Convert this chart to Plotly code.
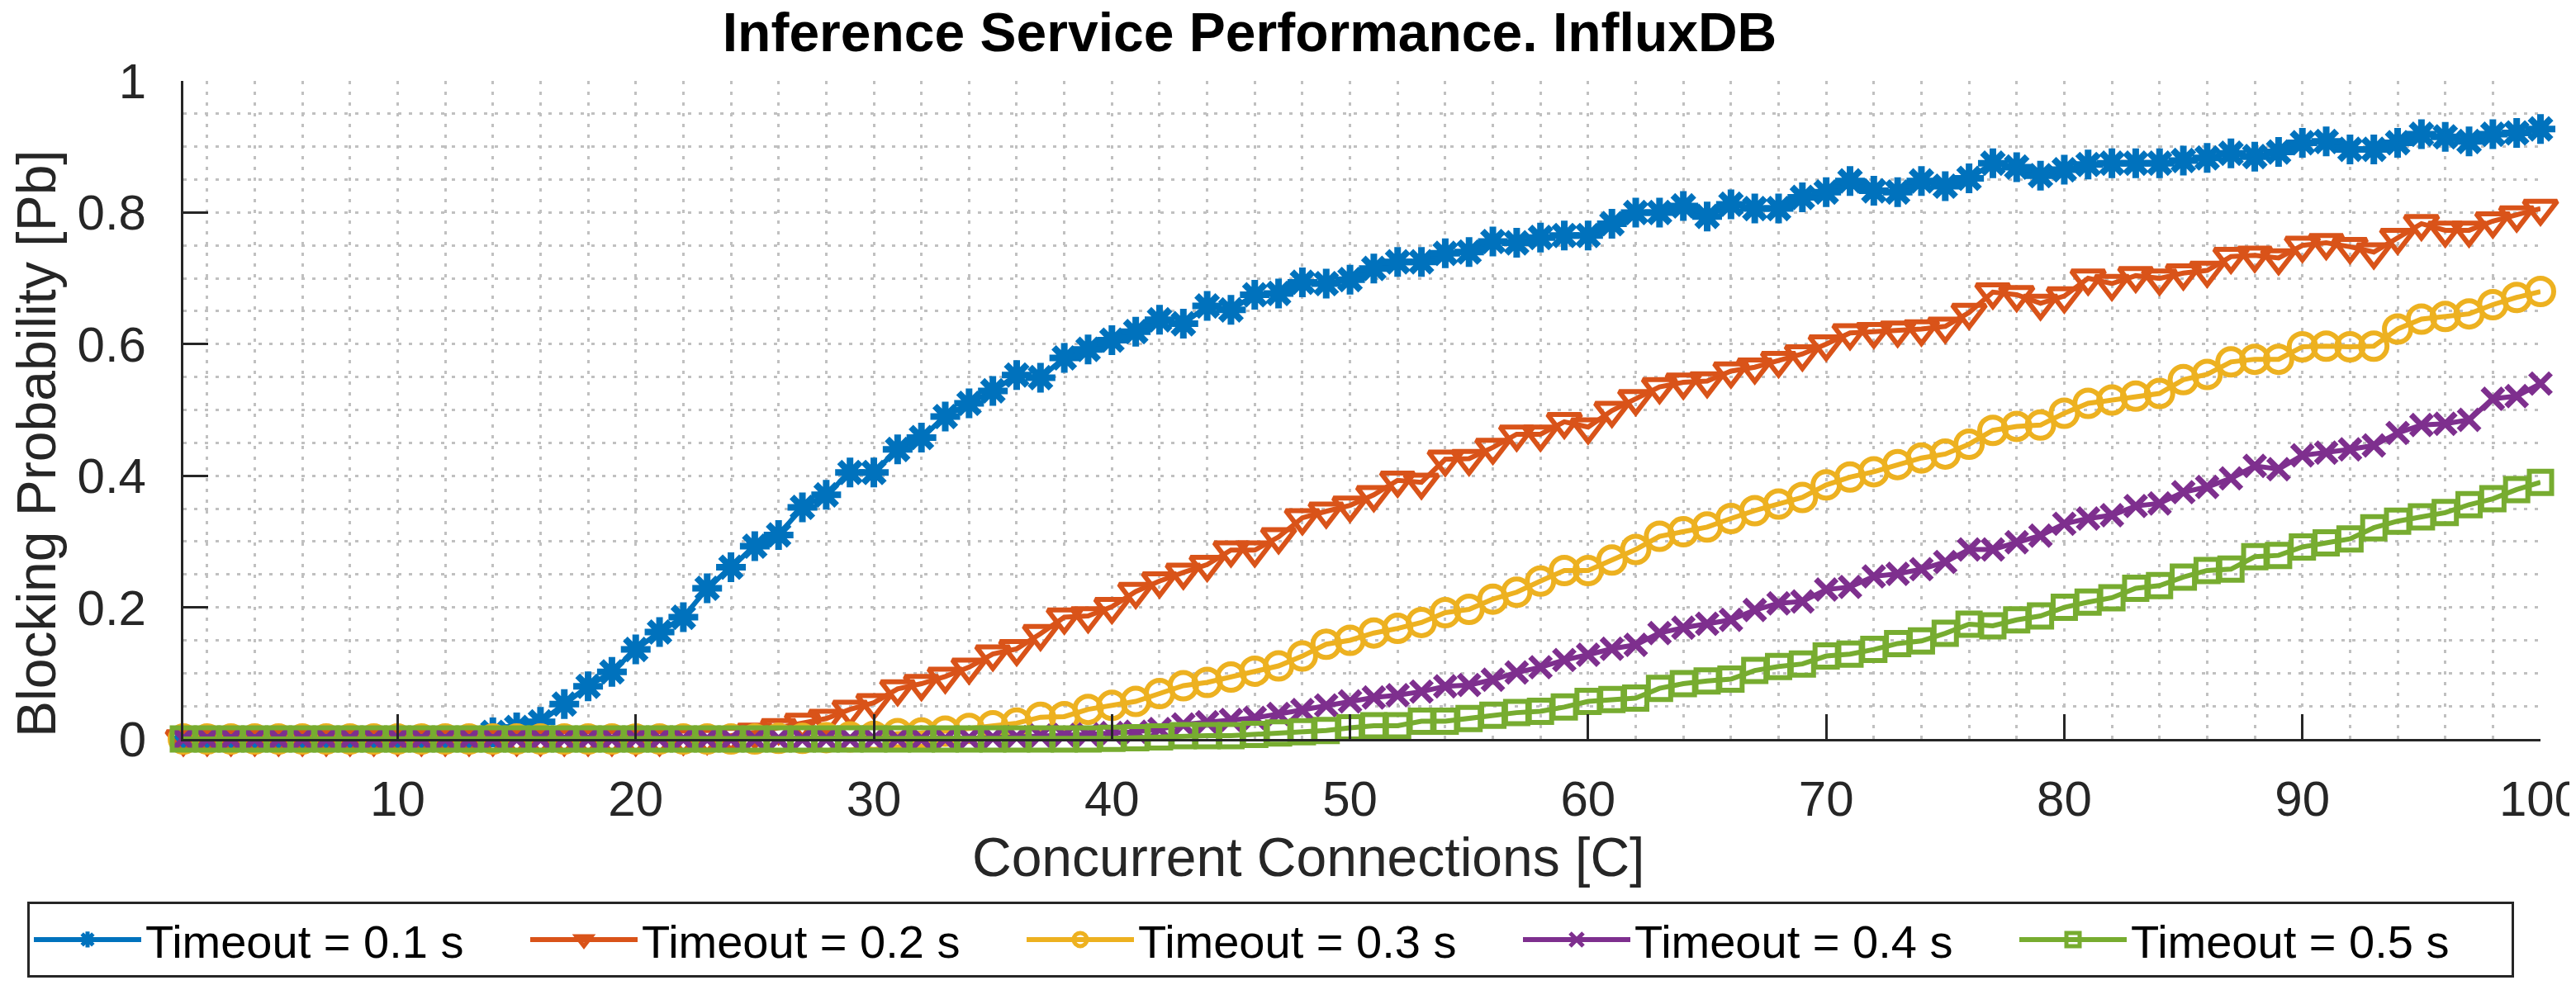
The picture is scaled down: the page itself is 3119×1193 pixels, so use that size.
import plotly.graph_objects as go

connections = list(range(1, 101))

timeout_01 = [0, 0, 0, 0, 0, 0, 0, 0, 0, 0,
              0, 0, 0, 0.010, 0.0175, 0.026, 0.053, 0.080, 0.102, 0.136,
              0.1625, 0.185, 0.229, 0.261, 0.293, 0.310, 0.352, 0.371, 0.405, 0.405,
              0.440, 0.458, 0.490, 0.510, 0.529, 0.553, 0.549, 0.579, 0.592, 0.606,
              0.619, 0.637, 0.631, 0.658, 0.652, 0.675, 0.677, 0.694, 0.692, 0.698,
              0.715, 0.725, 0.725, 0.738, 0.740, 0.756, 0.754, 0.762, 0.765, 0.765,
              0.783, 0.800, 0.800, 0.810, 0.794, 0.8125, 0.806, 0.806, 0.823, 0.831,
              0.848, 0.833, 0.831, 0.848, 0.840, 0.852, 0.875, 0.869, 0.856, 0.865,
              0.873, 0.875, 0.875, 0.875, 0.879, 0.883, 0.890, 0.885, 0.892, 0.906,
              0.908, 0.896, 0.896, 0.906, 0.919, 0.915, 0.908, 0.919, 0.921, 0.927]

timeout_02 = [0, 0, 0, 0, 0, 0, 0, 0, 0, 0,
              0, 0, 0, 0, 0, 0, 0, 0, 0, 0,
              0, 0.001, 0.002, 0.005, 0.010, 0.017, 0.025, 0.031, 0.045, 0.055,
              0.076, 0.084, 0.095, 0.109, 0.129, 0.137, 0.160, 0.185, 0.187, 0.201,
              0.224, 0.240, 0.253, 0.265, 0.287, 0.287, 0.307, 0.336, 0.346, 0.355,
              0.371, 0.393, 0.390, 0.425, 0.426, 0.443, 0.463, 0.463, 0.482, 0.474,
              0.499, 0.517, 0.535, 0.542, 0.544, 0.559, 0.565, 0.575, 0.585, 0.600,
              0.617, 0.619, 0.621, 0.623, 0.627, 0.648, 0.679, 0.675, 0.662, 0.673,
              0.700, 0.692, 0.704, 0.700, 0.708, 0.712, 0.733, 0.735, 0.731, 0.750,
              0.754, 0.748, 0.740, 0.762, 0.783, 0.773, 0.773, 0.787, 0.796, 0.806]

timeout_03 = [0, 0, 0, 0, 0, 0, 0, 0, 0, 0,
              0, 0, 0, 0, 0, 0, 0, 0, 0, 0,
              0, 0, 0, 0, 0, 0.001, 0.001, 0.002, 0.003, 0.004,
              0.008, 0.009, 0.012, 0.016, 0.020, 0.024, 0.033, 0.034, 0.045, 0.051,
              0.057, 0.069, 0.081, 0.086, 0.094, 0.103, 0.111, 0.126, 0.144, 0.150,
              0.161, 0.168, 0.177, 0.192, 0.197, 0.2125, 0.223, 0.240, 0.256, 0.256,
              0.272, 0.288, 0.308, 0.315, 0.322, 0.335, 0.347, 0.357, 0.367, 0.386,
              0.398, 0.406, 0.417, 0.427, 0.433, 0.448, 0.469, 0.475, 0.477, 0.495,
              0.510, 0.515, 0.521, 0.525, 0.546, 0.554, 0.573, 0.577, 0.577, 0.596,
              0.597, 0.596, 0.597, 0.623, 0.638, 0.642, 0.646, 0.660, 0.671, 0.680]

timeout_04 = [0, 0, 0, 0, 0, 0, 0, 0, 0, 0,
              0, 0, 0, 0, 0, 0, 0, 0, 0, 0,
              0, 0, 0, 0, 0, 0, 0, 0, 0, 0,
              0, 0, 0, 0.001, 0.002, 0.003, 0.005, 0.006, 0.007, 0.009,
              0.011, 0.015, 0.022, 0.0255, 0.029, 0.032, 0.038, 0.044, 0.051, 0.057,
              0.063, 0.0665, 0.072, 0.080, 0.082, 0.090, 0.101, 0.109, 0.120, 0.128,
              0.137, 0.143, 0.161, 0.169, 0.175, 0.181, 0.196, 0.206, 0.209, 0.227,
              0.231, 0.247, 0.251, 0.258, 0.269, 0.288, 0.288, 0.299, 0.309, 0.327,
              0.335, 0.340, 0.354, 0.358, 0.375, 0.383, 0.396, 0.415, 0.410, 0.431,
              0.435, 0.440, 0.446, 0.465, 0.477, 0.479, 0.485, 0.517, 0.521, 0.540]

timeout_05 = [0, 0, 0, 0, 0, 0, 0, 0, 0, 0,
              0, 0, 0, 0, 0, 0, 0, 0, 0, 0,
              0, 0, 0, 0, 0, 0, 0, 0, 0, 0,
              0, 0, 0, 0, 0, 0, 0, 0, 0, 0.001,
              0.002, 0.003, 0.005, 0.005, 0.005, 0.007, 0.009, 0.011, 0.013, 0.017,
              0.020, 0.020, 0.027, 0.027, 0.031, 0.036, 0.040, 0.042, 0.0485, 0.057,
              0.060, 0.062, 0.077, 0.084, 0.088, 0.091, 0.104, 0.110, 0.114, 0.126,
              0.129, 0.136, 0.145, 0.149, 0.1605, 0.1745, 0.172, 0.181, 0.187, 0.200,
              0.208, 0.2146, 0.229, 0.233, 0.246, 0.256, 0.258, 0.277, 0.279, 0.2917,
              0.298, 0.304, 0.321, 0.331, 0.3375, 0.344, 0.356, 0.365, 0.379, 0.390]

series_names = ["Timeout = 0.1 s", "Timeout = 0.2 s", "Timeout = 0.3 s",
                "Timeout = 0.4 s", "Timeout = 0.5 s"]
series_values = [timeout_01, timeout_02, timeout_03, timeout_04, timeout_05]
series_colors = ["#0072BD", "#D95319", "#EDB120", "#7E2F8E", "#77AC30"]
series_symbols = ["asterisk-open", "triangle-down-open", "circle-open",
                  "x-thin-open", "square-open"]
series_sizes = [30, 35, 32, 25, 27]
series_mlw = [8, 6, 6, 7, 6]

x_ticks = [10, 20, 30, 40, 50, 60, 70, 80, 90, 100]
y_ticks = [0, 0.2, 0.4, 0.6, 0.8, 1]

W, H = 3119, 1193
L, R, T, B = 214, 3068, 90, 887
FONT = "Liberation Sans, Arial, Helvetica, sans-serif"
AXC = "#262626"
GRIDC = "#c0c0c0"

fig = go.Figure()
for name, vals, col, sym, sz, mlw in zip(series_names, series_values, series_colors,
                                          series_symbols, series_sizes, series_mlw):
    fig.add_trace(go.Scatter(
        x=connections, y=vals, name=name, mode="lines+markers",
        line=dict(color=col, width=6),
        marker=dict(symbol=sym, size=sz, color=col,
                    line=dict(color=col, width=mlw)),
        cliponaxis=False,
    ))

fig.update_layout(
    width=W, height=H,
    margin=dict(l=L, r=W - R, t=T, b=H - B, autoexpand=False),
    paper_bgcolor="white", plot_bgcolor="white",
    font=dict(family=FONT, color="#262626", size=60),
    title=dict(text="<b>Inference Service Performance. InfluxDB</b>",
               font=dict(family=FONT, size=66, color="black"),
               xref="container", yref="container",
               x=1505 / W, xanchor="center",
               y=1 - 31 / H, yanchor="middle"),
    xaxis=dict(range=[1, 100], tickmode="array", tickvals=x_ticks,
               ticks="inside", ticklen=30, tickwidth=3, tickcolor=AXC,
               showline=True, linecolor=AXC, linewidth=3, mirror=False,
               zeroline=False, showgrid=True, gridcolor=GRIDC, gridwidth=2.5,
               griddash="4px,9px",
               minor=dict(dtick=2, tick0=0, showgrid=True, gridcolor=GRIDC,
                          gridwidth=2.5, griddash="4px,9px", ticks=""),
               tickfont=dict(family=FONT, size=60, color="#262626"),
               ticklabelstandoff=18, automargin=False),
    yaxis=dict(range=[0, 1], tickmode="array", tickvals=y_ticks,
               ticktext=["0", "0.2", "0.4", "0.6", "0.8", "1"],
               ticks="inside", ticklen=30, tickwidth=3, tickcolor=AXC,
               showline=True, linecolor=AXC, linewidth=3, mirror=False,
               zeroline=False, showgrid=True, gridcolor=GRIDC, gridwidth=2.5,
               griddash="4px,9px",
               minor=dict(dtick=0.05, tick0=0, showgrid=True, gridcolor=GRIDC,
                          gridwidth=2.5, griddash="4px,9px", ticks=""),
               tickfont=dict(family=FONT, size=60, color="#262626"),
               ticklabelstandoff=30, automargin=False),
    legend=dict(orientation="h", xref="paper", yref="paper",
                x=(25 - L) / (R - L), xanchor="left",
                y=(B - 1084) / (B - T), yanchor="top",
                font=dict(family=FONT, size=56, color="black"),
                bordercolor=AXC, borderwidth=3, bgcolor="white",
                entrywidth=456, entrywidthmode="pixels", itemwidth=130),
    showlegend=True,
)

fig.add_annotation(text="Concurrent Connections [C]", xref="paper", yref="paper",
                   x=(1576 - L) / (R - L), y=(B - 1030) / (B - T),
                   xanchor="center", yanchor="middle", showarrow=False,
                   font=dict(family=FONT, size=66, color="#262626"))
fig.add_annotation(text="Blocking Probability [Pb]", xref="paper", yref="paper",
                   x=(36 - L) / (R - L), y=(B - 529) / (B - T), textangle=-90,
                   xanchor="center", yanchor="middle", showarrow=False,
                   font=dict(family=FONT, size=66, color="#262626"))

fig.write_html("out.html")
